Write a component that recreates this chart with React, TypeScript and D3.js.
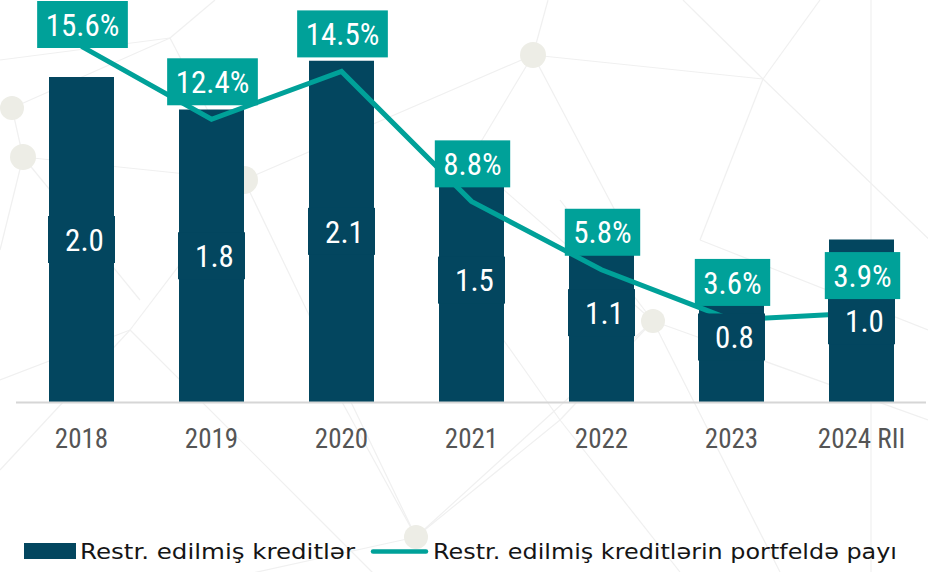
import React from "react";
import * as d3 from "d3";

const categories = ["2018", "2019", "2020", "2021", "2022", "2023", "2024 RII"];
const restructured = [2.0, 1.8, 2.1, 1.5, 1.1, 0.8, 1.0];
const sharePct = [15.6, 12.4, 14.5, 8.8, 5.8, 3.6, 3.9];
const legendLabels = ["Restr. edilmiş kreditlər", "Restr. edilmiş kreditlərin portfeldə payı"];

// decorative background network (node positions)
const bgNodes: [number, number, number][] = [
  [12, 108, 12], [23, 157, 13], [244, 180, 14], [533, 55, 13], [653, 321, 12], [416, 537, 12],
];
const bgEdges: [number, number, number, number][] = [
  [0, 60, 170, 38], [170, 38, 215, 0], [170, 38, 12, 108], [12, 108, 23, 157], [170, 38, 244, 180],
  [23, 157, 244, 180], [0, 250, 23, 157], [23, 157, 140, 300], [244, 180, 533, 55], [533, 55, 548, 0],
  [533, 55, 763, 79], [533, 55, 470, 160], [763, 79, 683, 0], [763, 79, 820, 0], [763, 79, 940, 250],
  [763, 79, 700, 240], [533, 55, 620, 220], [871, 0, 871, 572], [244, 180, 416, 537], [653, 321, 416, 537],
  [653, 321, 560, 200], [653, 321, 780, 572], [653, 321, 928, 420], [416, 537, 130, 600], [416, 537, 330, 380],
  [0, 470, 130, 330], [130, 330, 400, 600], [130, 330, 244, 180], [0, 380, 130, 330], [470, 160, 653, 321],
  [700, 240, 928, 330], [560, 420, 680, 572], [560, 420, 653, 321], [560, 420, 416, 537], [560, 420, 440, 250],
];

const BAR = "#03465f";
const TEAL = "#00a199";
const NUMFONT = "'Liberation Sans Narrow', 'Roboto Condensed', 'DejaVu Sans Condensed', 'Liberation Sans', sans-serif";
const LEGFONT = "'DejaVu Sans', 'Noto Sans', sans-serif";

function measure(text: string, font: string): number {
  const c = document.createElement("canvas").getContext("2d");
  if (!c) return text.length * 14;
  c.font = font;
  return c.measureText(text).width;
}

export default function App() {
  const W = 928, H = 572;
  const baseY = 402;
  const x = d3.scaleBand<string>().domain(categories).range([16.5, 926.5]).paddingInner(0.5).paddingOuter(0.25);
  const yBar = d3.scaleLinear().domain([0, 2.5]).range([baseY, baseY - 2.5 * 162.5]);
  const yLine = d3.scaleLinear().domain([0, 18]).range([baseY, baseY - 18 * 22.8]);
  const cx = (c: string) => (x(c) as number) + x.bandwidth() / 2;
  const line = d3.line<number>().x((_, i) => cx(categories[i])).y((d) => yLine(d));
  const numFont = `31px ${NUMFONT}`;

  return (
    <div style={{ position: "fixed", left: 0, top: 0, width: W, height: H, background: "#fff" }}>
      <svg width={W} height={H} style={{ display: "block" }}>
        <g>
          {bgEdges.map((e, i) => (
            <line key={i} x1={e[0]} y1={e[1]} x2={e[2]} y2={e[3]} stroke="#f0f0f0" strokeWidth={1.2} />
          ))}
          {bgNodes.map((n, i) => (
            <circle key={i} cx={n[0]} cy={n[1]} r={n[2]} fill="#ededE6" />
          ))}
        </g>
        {categories.map((c, i) => (
          <rect key={c} x={x(c)} y={yBar(restructured[i])} width={x.bandwidth()} height={baseY - yBar(restructured[i])} fill={BAR} />
        ))}
        <line x1={16} x2={926} y1={baseY + 0.5} y2={baseY + 0.5} stroke="#d6d6d6" strokeWidth={2} />
        <path d={line(sharePct) || ""} fill="none" stroke={TEAL} strokeWidth={5} />
        {categories.map((c, i) => {
          const v = restructured[i];
          const my = (yBar(v) + baseY) / 2;
          return (
            <g key={c}>
              <rect x={cx(c) - 33.5} y={my - 23.5} width={67} height={47} fill={BAR} />
              <text x={cx(c) + 3} y={my} dy="0.36em" textAnchor="middle" fill="#fff" style={{ font: numFont }}>
                {v.toFixed(1)}
              </text>
            </g>
          );
        })}
        {categories.map((c, i) => {
          const label = sharePct[i].toFixed(1) + "%";
          const w = measure(label, numFont) + 17;
          const py = yLine(sharePct[i]);
          const top = Math.max(1, py - 14 - 47);
          return (
            <g key={c}>
              <rect x={cx(c) + 1 - w / 2} y={top} width={w} height={47} fill={TEAL} />
              <text x={cx(c) + 1} y={top + 23.5} dy="0.36em" textAnchor="middle" fill="#fff" style={{ font: numFont }}>
                {label}
              </text>
            </g>
          );
        })}
        {categories.map((c) => (
          <text key={c} x={cx(c)} y={448} textAnchor="middle" fill="#555555" style={{ font: `27px ${NUMFONT}` }}>
            {c}
          </text>
        ))}
        <rect x={24} y={543} width={52} height={16} fill={BAR} />
        <text x={80} y={559} textLength={275} lengthAdjust="spacingAndGlyphs" fill="#151515" style={{ font: `22px ${LEGFONT}` }}>
          {legendLabels[0]}
        </text>
        <line x1={373} x2={426} y1={551.5} y2={551.5} stroke={TEAL} strokeWidth={4.5} strokeLinecap="round" />
        <text x={433} y={559} textLength={464} lengthAdjust="spacingAndGlyphs" fill="#151515" style={{ font: `22px ${LEGFONT}` }}>
          {legendLabels[1]}
        </text>
      </svg>
    </div>
  );
}
